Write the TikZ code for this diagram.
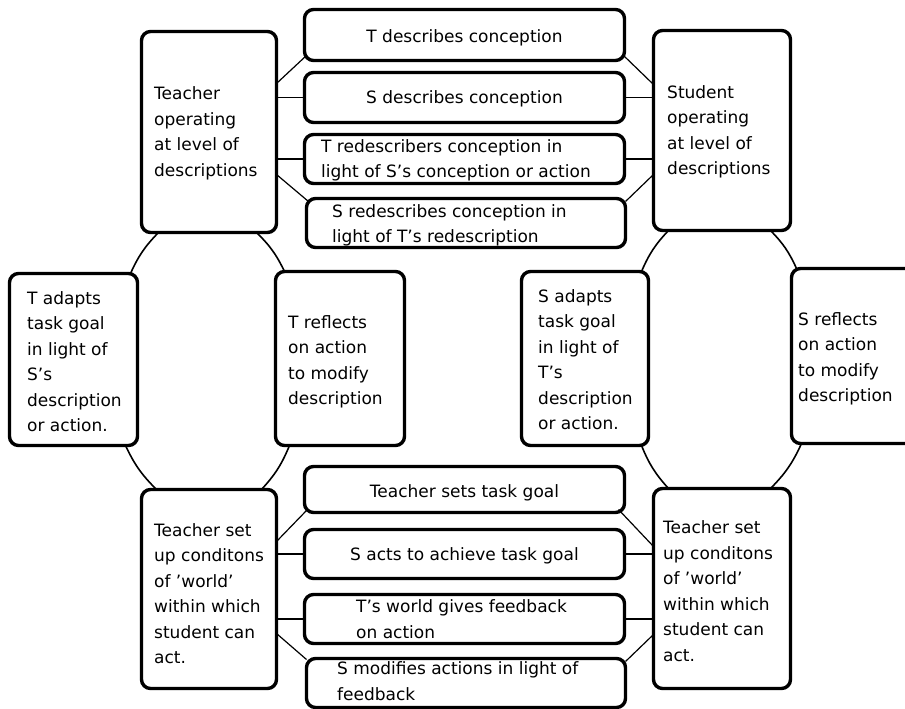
\documentclass[tikz,border=0pt]{standalone}
\usepackage{fontspec}
\setmainfont{DejaVu Sans}
\usetikzlibrary{calc}
\begin{document}
\begin{tikzpicture}[x=1pt,y=-1pt,
  box/.style={draw=black, line width=3.4pt, rounded corners=9pt, fill=white, inner sep=0pt, outer sep=0pt},
  txt/.style={inner sep=0pt, align=left, anchor=west, font=\fontsize{17}{25.5}\selectfont},
  ctxt/.style={inner sep=0pt, anchor=base, font=\fontsize{17}{25.5}\selectfont},
  link/.style={line width=1.2pt},
  hlink/.style={line width=1.8pt},
  ringarc/.style={line width=1.6pt, bend right=10},
]
\useasboundingbox (0,0) rectangle (905,709);
\clip (0,0) rectangle (905,709);
\fill[white] (0,0) rectangle (905,709);

% side boxes
\node[box, minimum width=135pt, minimum height=201pt] (TL) at (209,132) {};
\node[box, minimum width=137pt, minimum height=200pt] (TR) at (722,130.5) {};
\node[box, minimum width=128pt, minimum height=172pt] (ML) at (73.5,359.5) {};
\node[box, minimum width=129pt, minimum height=174pt] (MC1) at (340,358.5) {};
\node[box, minimum width=127pt, minimum height=174pt] (MC2) at (585,358.5) {};
\node[box, minimum width=137pt, minimum height=175pt] (MR) at (860,356) {};
\node[box, minimum width=135pt, minimum height=199pt] (BL) at (209,589) {};
\node[box, minimum width=137pt, minimum height=200pt] (BR) at (722,588.5) {};

% middle boxes
\node[box, minimum width=320pt, minimum height=51pt] (M1) at (464.5,35) {};
\node[box, minimum width=320pt, minimum height=50pt] (M2) at (464.5,97.5) {};
\node[box, minimum width=320pt, minimum height=49pt] (M3) at (464.5,159) {};
\node[box, minimum width=319pt, minimum height=49pt] (M4) at (466,223) {};
\node[box, minimum width=320pt, minimum height=46pt] (B1) at (464.5,489.5) {};
\node[box, minimum width=320pt, minimum height=49pt] (B2) at (464.5,554) {};
\node[box, minimum width=320pt, minimum height=49pt] (B3) at (464.5,619) {};
\node[box, minimum width=319pt, minimum height=49pt] (B4) at (466,683) {};

% ring arcs (left)
\draw[ringarc] ($(TL.south west)+(17,0)$) to ($(ML.north east)+(-7,0)$);
\draw[ringarc] ($(ML.south east)+(-12,0)$) to ($(BL.north west)+(15,0)$);
\draw[ringarc] ($(BL.north east)+(-15,0)$) to ($(MC1.south west)+(14,0)$);
\draw[ringarc] ($(MC1.north west)+(9,0)$) to ($(TL.south east)+(-20,0)$);
% ring arcs (right)
\draw[ringarc] ($(TR.south west)+(15,0)$) to ($(MC2.north east)+(-7,0)$);
\draw[ringarc] ($(MC2.south east)+(-7,0)$) to ($(BR.north west)+(15,0)$);
\draw[ringarc] ($(BR.north east)+(-20,0)$) to ($(MR.south west)+(10,0)$);
\draw[ringarc] ($(MR.north west)+(5,0)$) to ($(TR.south east)+(-20,0)$);

% top-left links
\draw[link] ($(TL.north east)+(0,52)$) -- ($(M1.south west)+(2,-5)$);
\draw[hlink] (M2.west -| TL.east) -- (M2.west);
\draw[hlink] (M3.west -| TL.east) -- (M3.west);
\draw[link] ($(TL.north east)+(0,143)$) -- ($(M4.north west)+(2,3)$);
% top-right links
\draw[link] ($(M1.south east)+(-1,-5)$) -- ($(TR.north west)+(0,54)$);
\draw[hlink] (M2.east) -- (M2.east -| TR.west);
\draw[hlink] (M3.east) -- (M3.east -| TR.west);
\draw[link] ($(TR.north west)+(0,144)$) -- ($(M4.north east)+(0,3)$);
% bottom-left links
\draw[link] ($(BL.north east)+(0,52)$) -- ($(B1.south west)+(2,-2)$);
\draw[hlink] (B2.west -| BL.east) -- (B2.west);
\draw[hlink] (B3.west -| BL.east) -- (B3.west);
\draw[link] ($(BL.north east)+(0,144)$) -- ($(B4.north west)+(0,1)$);
% bottom-right links
\draw[link] ($(B1.south east)+(-6,-3)$) -- ($(BR.north west)+(0,58)$);
\draw[hlink] (B2.east) -- (B2.east -| BR.west);
\draw[hlink] (B3.east) -- (B3.east -| BR.west);
\draw[link] ($(BR.north west)+(0,146)$) -- ($(B4.north east)+(0,3)$);

% texts
\node[txt] (TLt) at (154,133.5) {Teacher\\operating\\at level of\\descriptions};
\node[txt] (TRt) at (667,132) {Student\\operating\\at level of\\descriptions};
\node[txt] (MLt) at (27,361.5) {T adapts\\task goal\\in light of\\S's\\description\\or action.};
\node[txt] (MC1t) at (288,362) {T reflects\\on action\\to modify\\description};
\node[txt] (MC2t) at (538,359.5) {S adapts\\task goal\\in light of\\T's\\description\\or action.};
\node[txt] (MRt) at (798,359) {S reflects\\on action\\to modify\\description};
\node[txt] (BLt) at (154,593.5) {Teacher set\\up conditons\\of 'world'\\within which\\student can\\act.};
\node[txt] (BRt) at (663,591) {Teacher set\\up conditons\\of 'world'\\within which\\student can\\act.};
\node[ctxt] (M1t) at (464.5,43) {T describes conception};
\node[ctxt] (M2t) at (464.5,103) {S describes conception};
\node[txt] (M3t) at (321,160.5) {T redescribers conception in\\light of S's conception or action};
\node[txt] (M4t) at (332,225.5) {S redescribes conception in\\light of T's redescription};
\node[ctxt] (B1t) at (464.5,497) {Teacher sets task goal};
\node[ctxt] (B2t) at (464.5,560) {S acts to achieve task goal};
\node[txt] (B3t) at (356,619) {T's world gives feedback\\on action};
\node[txt] (B4t) at (337,681.3) {S modifies actions in light of\\feedback};
\end{tikzpicture}
\end{document}
